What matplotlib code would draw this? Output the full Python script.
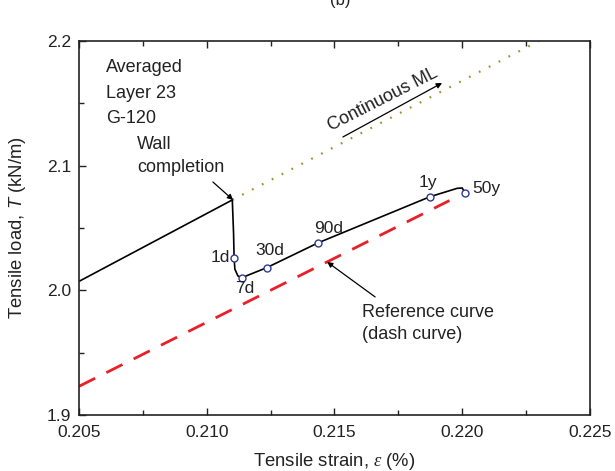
import matplotlib
matplotlib.use("Agg")
import matplotlib.pyplot as plt
from matplotlib.ticker import MultipleLocator

plt.rcParams['font.family'] = ['Liberation Sans', 'DejaVu Sans']
plt.rcParams['mathtext.fontset'] = 'custom'
plt.rcParams['mathtext.it'] = 'Liberation Sans:italic'
plt.rcParams['mathtext.sf'] = 'Liberation Serif:italic'
plt.rcParams['mathtext.rm'] = 'Liberation Sans'

# measured response of layer 23 (wall line, drop at completion, then creep)
strain = [0.2050, 0.2110, 0.21105, 0.21107, 0.2111, 0.21122, 0.21138,
          0.21235, 0.21435, 0.21874, 0.2198, 0.2200, 0.22011]
load = [2.0072, 2.0725, 2.045, 2.026, 2.017, 2.0115, 2.0102,
        2.0182, 2.038, 2.0751, 2.0818, 2.0821, 2.0779]

# time markers along the creep branch
ages = ['1d', '7d', '30d', '90d', '1y', '50y']
age_strain = [0.21107, 0.21138, 0.21235, 0.21435, 0.21874, 0.22011]
age_load = [2.026, 2.0102, 2.0182, 2.038, 2.0751, 2.0779]

# continuous ML extension from wall completion
ml_strain = [0.2110, 0.2230]
ml_load = [2.0725, 2.2]

# reference (dash) curve
ref_strain = [0.2050, 0.2195]
ref_load = [1.923, 2.072]

TXT = '#222222'

fig = plt.figure(figsize=(6.15, 4.71), dpi=100)
ax = fig.add_axes([0.1285, 0.1189, 0.8308, 0.7941])

ax.plot(ref_strain, ref_load, color='#e8202a', lw=2.0, dashes=(6.5, 4.5))
ax.plot(ml_strain, ml_load, color='#9c9430', lw=1.6, dashes=(0.8, 4.2))
ax.plot(strain, load, color='black', lw=1.2)
ax.plot(age_strain, age_load, 'o', ms=5, mfc='white', mec='#2d3a9a', mew=1.0)

# marker labels, offsets in points
offsets = {'1d': (-10, 0.5, 'center'), '7d': (2, -8, 'center'),
           '30d': (2, 12.5, 'center'), '90d': (8, 10.5, 'center'),
           '1y': (-1.5, 10, 'center'), '50y': (5, 3.5, 'left')}
for name, xs, ys in zip(ages, age_strain, age_load):
    dx, dy, ha = offsets[name]
    ax.annotate(name, (xs, ys), xytext=(dx, dy), textcoords='offset points',
                ha=ha, va='center', fontsize=12.5, color=TXT)

ax.text(0.20606, 2.179, 'Averaged', fontsize=13, va='center', color=TXT)
ax.text(0.20606, 2.158, 'Layer 23', fontsize=13, va='center', color=TXT)
ax.text(0.20606, 2.138, 'G-120', fontsize=13, va='center', color=TXT)
ax.text(0.20727, 2.1166, 'Wall', fontsize=13, va='center', color=TXT)
ax.text(0.20727, 2.0982, 'completion', fontsize=13, va='center', color=TXT)
ax.annotate('', xy=(0.21103, 2.0725), xytext=(0.21024, 2.0869),
            arrowprops=dict(arrowstyle='-|>', color='black', lw=0.9,
                            mutation_scale=8, shrinkA=0, shrinkB=0))

ax.text(0.21608, 1.9819, 'Reference curve', fontsize=13, va='center', color=TXT)
ax.text(0.21608, 1.9643, '(dash curve)', fontsize=13, va='center', color=TXT)
ax.annotate('', xy=(0.21471, 2.0228), xytext=(0.21659, 1.9947),
            arrowprops=dict(arrowstyle='-|>', color='black', lw=0.9,
                            mutation_scale=8, shrinkA=0, shrinkB=0))

ax.text(0.2169, 2.1527, 'Continuous ML', fontsize=13, rotation=27,
        ha='center', va='center', rotation_mode='anchor', color=TXT)
ax.annotate('', xy=(0.21921, 2.1663), xytext=(0.21533, 2.123),
            arrowprops=dict(arrowstyle='-|>', color='black', lw=0.9,
                            mutation_scale=8, shrinkA=0, shrinkB=0))

ax.set_xlim(0.205, 0.225)
ax.set_ylim(1.9, 2.2)
ax.xaxis.set_major_locator(MultipleLocator(0.005))
ax.xaxis.set_minor_locator(MultipleLocator(0.0025))
ax.yaxis.set_major_locator(MultipleLocator(0.1))
ax.yaxis.set_minor_locator(MultipleLocator(0.05))
ax.xaxis.set_major_formatter(plt.FormatStrFormatter('%.3f'))
ax.yaxis.set_major_formatter(plt.FormatStrFormatter('%.1f'))
ax.tick_params(which='both', direction='in', top=True, right=False,
               labelsize=12.5, colors=TXT, width=1.0)
ax.tick_params(axis='x', which='major', pad=7)
ax.tick_params(axis='y', which='major', pad=5.5)
ax.tick_params(which='major', length=5)
ax.tick_params(which='minor', length=3.5)
for s in ax.spines.values():
    s.set_linewidth(1.2)
    s.set_color(TXT)

ax.set_xlabel(r'Tensile strain, $\mathsf{\varepsilon}$ (%)', fontsize=13.3,
              color=TXT, labelpad=8)
ax.set_ylabel(r'Tensile load, $T$ (kN/m)', fontsize=13.3, color=TXT, labelpad=14)

fig.text(0.553, 1.0, '(b)', fontsize=12, ha='center', va='center', color=TXT)

fig.savefig('out.png', dpi=100)
